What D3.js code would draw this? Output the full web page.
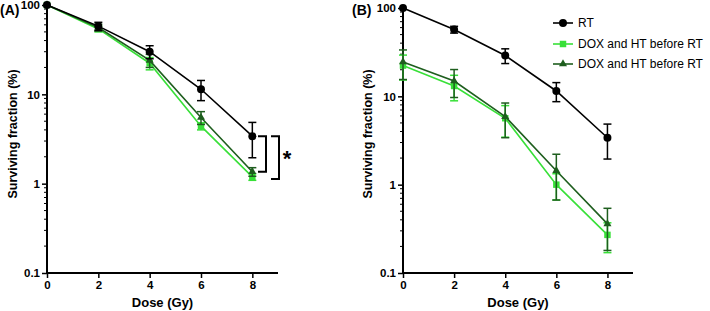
<!DOCTYPE html>
<html>
<head>
<meta charset="utf-8">
<script src="https://cdn.jsdelivr.net/npm/d3@7"></script>
<style>
  body { margin: 0; background: #fff; }
  text { font-family: "Liberation Sans", Arial, sans-serif; }
</style>
</head>
<body>
<div id="chart"></div>
<script>
// Data
var doses = [0, 2, 4, 6, 8];
var xTicks = [0, 2, 4, 6, 8];
var yTicks = [0.1, 1, 10, 100];
var seriesNames = ["RT", "DOX and HT before RT", "DOX and HT before RT"];

var aRT = [100, 58, 30, 11.4, 3.4];
var aRTErr = [0, 6, 5, 2.9, 1.45];
var aLight = [100, 54, 22.3, 4.4, 1.19];
var aLightErr = [0, 4, 3.5, 0.4, 0.1];
var aDark = [100, 56, 24, 5.5, 1.36];
var aDarkErr = [0, 5, 4, 0.9, 0.15];

var bRT = [100, 57, 29, 11.5, 3.4];
var bRTErr = [0, 5, 5.5, 2.8, 1.45];
var bLight = [22.3, 13.1, 5.65, 1.0, 0.27];
var bLightErr = [7, 4.2, 2.2, 0.33, 0.1];
var bDark = [24.5, 14.9, 5.9, 1.44, 0.36];
var bDarkErr = [9, 5.2, 2.5, 0.77, 0.18];

var colors = ["#000000", "#38e038", "#1e5e1e"];
var shapes = [d3.symbolCircle, d3.symbolSquare, d3.symbolTriangle];
var sizes = [50, 42, 28];

var svg = d3.select("#chart").append("svg")
  .attr("width", 710)
  .attr("height", 311);

function drawPanel(opts) {
  var x = d3.scaleLinear().domain([0, 9]).range([opts.left, opts.right]);
  var y = d3.scaleLog().domain([0.1, 100]).range([273, opts.top]);
  var g = svg.append("g");

  // minor ticks on log axis
  var minor = [];
  [0.1, 1, 10].forEach(function(d) {
    for (var k = 2; k <= 9; k++) minor.push(d * k);
  });
  g.selectAll(".minor")
    .data(minor)
    .enter().append("line")
    .attr("x1", opts.left - 3).attr("x2", opts.left)
    .attr("y1", function(d) { return y(d); })
    .attr("y2", function(d) { return y(d); })
    .attr("stroke", "#000").attr("stroke-width", 1);

  // Y axis
  var yAxis = g.append("g")
    .attr("transform", "translate(" + opts.left + ",0)")
    .call(d3.axisLeft(y).tickValues(yTicks).tickSize(5).tickPadding(2)
      .tickFormat(function(d) { return d3.format("~g")(d); }));
  // X axis
  var xAxis = g.append("g")
    .attr("transform", "translate(0,273)")
    .call(d3.axisBottom(x).tickValues(xTicks).tickSize(5).tickPadding(3));

  [yAxis, xAxis].forEach(function(a) {
    a.select(".domain").attr("stroke-width", 2).attr("stroke", "#000");
    a.selectAll(".tick line").attr("stroke-width", 1.5);
    a.selectAll(".tick text")
      .attr("font-size", 11.5).attr("font-weight", "bold")
      .attr("font-family", "Liberation Sans, Arial, sans-serif").attr("fill", "#000");
  });
  yAxis.select(".domain").attr("d", "M0," + opts.top + "V273");
  xAxis.select(".domain").attr("d", "M" + opts.left + ",0H" + opts.right);

  // series, drawn back to front
  var order = [1, 2, 0];
  order.forEach(function(i) {
    var vals = opts.series[i], errs = opts.errs[i];
    var pts = doses.map(function(d, j) { return { x: d, v: vals[j], e: errs[j] }; });
    var sg = g.append("g");

    sg.append("path")
      .datum(pts)
      .attr("fill", "none")
      .attr("stroke", colors[i])
      .attr("stroke-width", 1.6)
      .attr("d", d3.line().x(function(d) { return x(d.x); }).y(function(d) { return y(d.v); }));

    var eb = sg.selectAll(".err")
      .data(pts.filter(function(d) { return d.e > 0; }))
      .enter().append("g");
    eb.append("line")
      .attr("x1", function(d) { return x(d.x); })
      .attr("x2", function(d) { return x(d.x); })
      .attr("y1", function(d) { return y(d.v + d.e); })
      .attr("y2", function(d) { return y(d.v - d.e); })
      .attr("stroke", colors[i]).attr("stroke-width", 1.5);
    [1, -1].forEach(function(s) {
      eb.append("line")
        .attr("x1", function(d) { return x(d.x) - 4; })
        .attr("x2", function(d) { return x(d.x) + 4; })
        .attr("y1", function(d) { return y(d.v + s * d.e); })
        .attr("y2", function(d) { return y(d.v + s * d.e); })
        .attr("stroke", colors[i]).attr("stroke-width", 1.5);
    });

    sg.selectAll(".pt")
      .data(pts)
      .enter().append("path")
      .attr("transform", function(d) { return "translate(" + x(d.x) + "," + y(d.v) + ")"; })
      .attr("d", d3.symbol().type(shapes[i]).size(sizes[i]))
      .attr("fill", colors[i]);
  });

  // panel letter
  g.append("text")
    .attr("x", opts.letterX).attr("y", 15)
    .attr("font-size", 14).attr("font-weight", "bold")
    .text(opts.letter);

  // axis titles
  g.append("text")
    .attr("transform", "translate(" + opts.ylabelX + ",134) rotate(-90)")
    .attr("text-anchor", "middle")
    .attr("font-size", 12.5).attr("font-weight", "bold")
    .text("Surviving fraction (%)");
  g.append("text")
    .attr("x", (opts.left + opts.right) / 2).attr("y", 307)
    .attr("text-anchor", "middle")
    .attr("font-size", 13).attr("font-weight", "bold")
    .text("Dose (Gy)");

  return { x: x, y: y, g: g };
}

var pA = drawPanel({
  left: 47, right: 278, top: 5, letter: "(A)", letterX: 0, ylabelX: 17,
  series: [aRT, aLight, aDark], errs: [aRTErr, aLightErr, aDarkErr]
});

var pB = drawPanel({
  left: 403, right: 633, top: 8, letter: "(B)", letterX: 352, ylabelX: 372,
  series: [bRT, bLight, bDark], errs: [bRTErr, bLightErr, bDarkErr]
});

// significance brackets in panel A
function bracket(xl, xr, y1, y2) {
  pA.g.append("path")
    .attr("d", "M" + xl + "," + y1 + "H" + xr + "V" + y2 + "H" + xl)
    .attr("fill", "none").attr("stroke", "#000").attr("stroke-width", 2);
}
bracket(258, 266, pA.y(aRT[4]), pA.y(aDark[4]));
bracket(271, 279, pA.y(aRT[4]), pA.y(aLight[4]) + 2);
pA.g.append("text")
  .attr("x", 287).attr("y", 166)
  .attr("text-anchor", "middle")
  .attr("font-size", 22).attr("font-weight", "bold")
  .text("*");

// legend in panel B
var legend = svg.append("g");
[23, 44, 64].forEach(function(ly, i) {
  legend.append("line")
    .attr("x1", 553).attr("x2", 573).attr("y1", ly).attr("y2", ly)
    .attr("stroke", colors[i]).attr("stroke-width", 1.6);
  legend.append("path")
    .attr("transform", "translate(563," + ly + ")")
    .attr("d", d3.symbol().type(shapes[i]).size(sizes[i]))
    .attr("fill", colors[i]);
  legend.append("text")
    .attr("x", 578).attr("y", ly).attr("dy", "0.35em")
    .attr("font-size", 12)
    .text(seriesNames[i]);
});
</script>
</body>
</html>
